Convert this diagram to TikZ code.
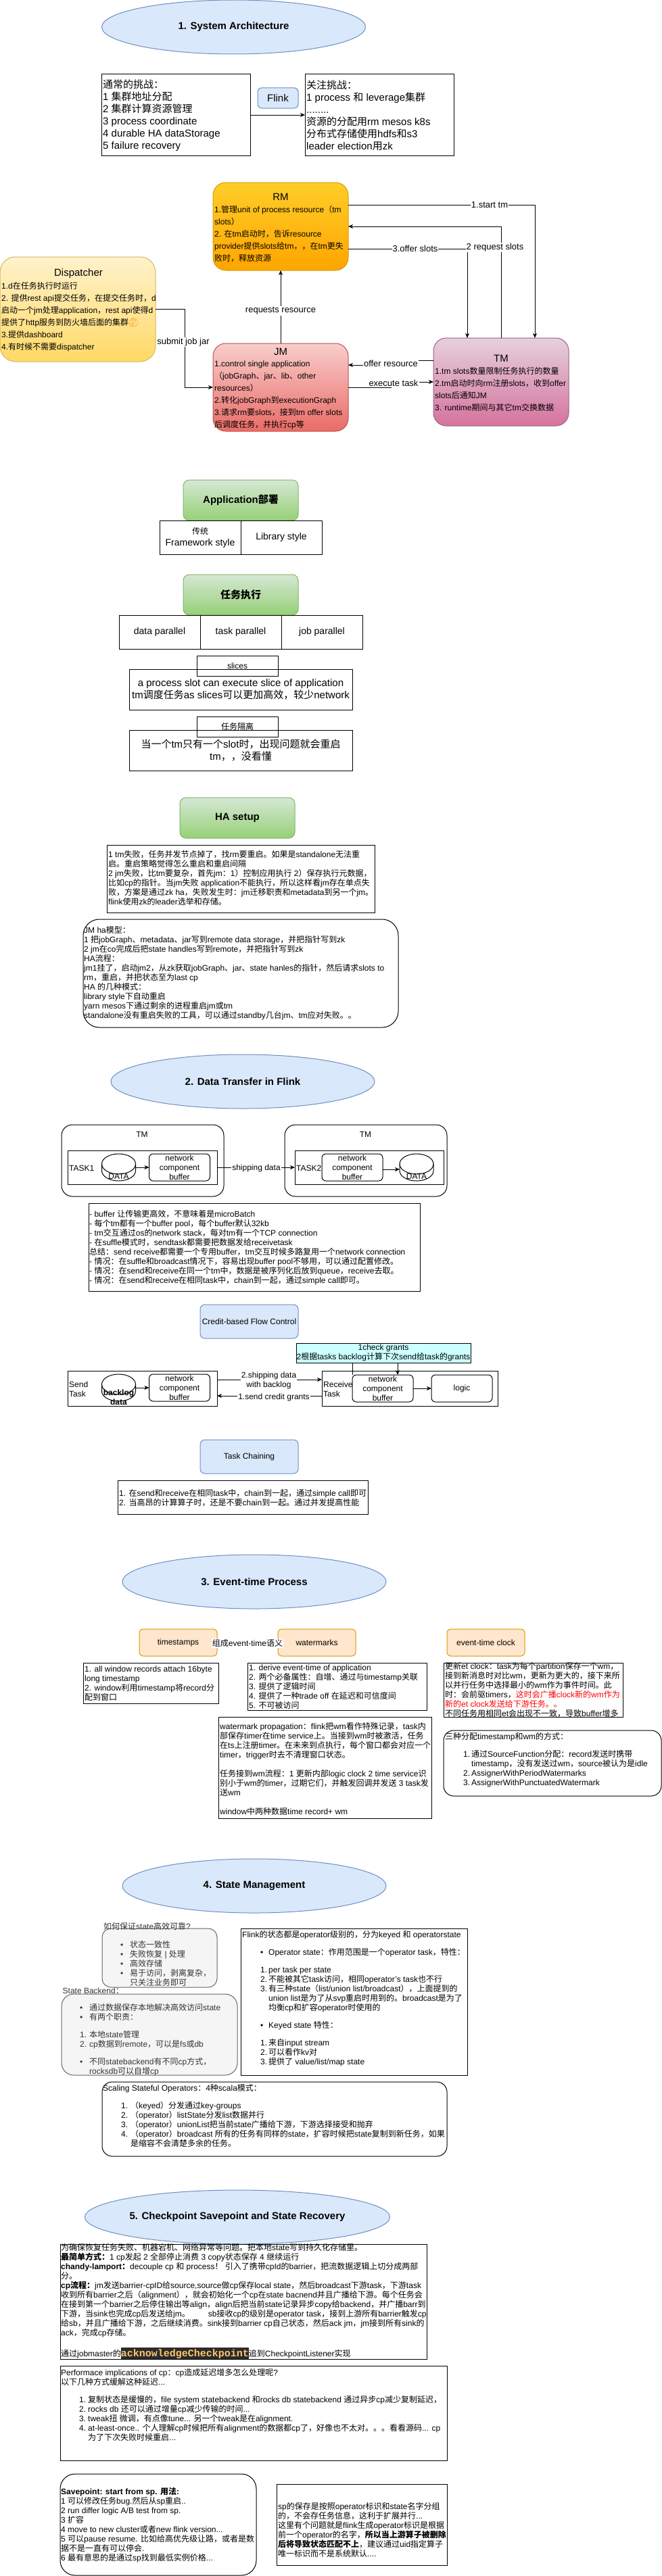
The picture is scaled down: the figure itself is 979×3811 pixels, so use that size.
\documentclass[tikz,border=0pt]{standalone}
\usepackage{fontspec}
\usetikzlibrary{arrows.meta,shapes.geometric,calc}
\setmainfont{Liberation Sans}
\setmonofont{Liberation Mono}
\newfontfamily\cjkf{Noto Sans CJK SC}
\newfontfamily\emojif{Noto Emoji}
% automatic font switch between Latin and CJK
\XeTeXinterchartokenstate=1
\newXeTeXintercharclass\cjkclass
\newcount\cjkcc
\def\setcjkrange#1#2{\cjkcc=#1 \loop\ifnum\cjkcc<#2 \XeTeXcharclass\cjkcc=\cjkclass \advance\cjkcc 1 \repeat}
\setcjkrange{"2E80}{"A000}
\setcjkrange{"F900}{"FB00}
\setcjkrange{"FE30}{"FE50}
\setcjkrange{"FF00}{"FFF0}
\XeTeXinterchartoks 0 \cjkclass={\cjkf}
\XeTeXinterchartoks \cjkclass 0={\rmfamily}
\XeTeXinterchartoks 4095 \cjkclass={\cjkf}
\XeTeXinterchartoks \cjkclass 4095={\rmfamily}
\definecolor{ebl}{HTML}{DAE8FC}\definecolor{ebd}{HTML}{6C8EBF}
\definecolor{oraf}{HTML}{FFE6CC}\definecolor{orad}{HTML}{D79B00}
\definecolor{rmt}{HTML}{FFCD28}\definecolor{rmb}{HTML}{FFA500}
\definecolor{dit}{HTML}{FFF2CC}\definecolor{dib}{HTML}{FFD966}\definecolor{did}{HTML}{D6B656}
\definecolor{jmt}{HTML}{F8CECC}\definecolor{jmb}{HTML}{EA6B66}\definecolor{jmd}{HTML}{B85450}
\definecolor{tmt}{HTML}{E6D0DE}\definecolor{tmb}{HTML}{D5739D}\definecolor{tmd}{HTML}{996185}
\definecolor{grt}{HTML}{D5E8D4}\definecolor{grb}{HTML}{97D077}\definecolor{grd}{HTML}{82B366}
\definecolor{gyf}{HTML}{F5F5F5}\definecolor{gyd}{HTML}{666666}\definecolor{gyt}{HTML}{333333}
\definecolor{cyanf}{HTML}{CCFFFF}\definecolor{dkbg}{HTML}{2B2B2B}\definecolor{dkfg}{HTML}{FFC66D}
\newcommand\fsz[2]{\fontsize{#1pt}{#2pt}\selectfont}
\newcount\txn
\tikzset{
 boxs/.style={draw=black,line width=1pt,inner sep=0pt,outer sep=0pt,rectangle,align=center,font=\fsz{12}{14}},
 rr/.style={rounded corners=#1pt},
 sect/.style={ellipse,draw=ebd,fill=ebl,line width=1pt,inner sep=0pt,outer sep=0pt,minimum width=390pt,minimum height=80pt,font=\bfseries\fsz{15}{18}},
 txt/.style={anchor=west,align=left,inner sep=0pt,font=\fsz{12}{14}},
 ctr/.style={anchor=center,align=center,inner sep=0pt,font=\fsz{12}{14}},
 conn/.style={-{Stealth[length=7pt,width=6pt,inset=2pt]},black,line width=1pt},
 lbl/.style={fill=white,inner sep=1pt,align=center,font=\fsz{13}{15}},
 lbs/.style={fill=white,inner sep=1pt,align=center,font=\fsz{12}{14}},
 blu/.style={draw=ebd,fill=ebl},
 ora/.style={draw=orad,fill=oraf,rr=6},
 grn/.style={draw=grd,top color=grt,bottom color=grb,rr=9,font=\bfseries\fsz{15}{18}},
 gry/.style={draw=gyd,fill=gyf},
}
% box without text
\newcommand\bx[6][]{\node[boxs,#1,minimum width=#5pt,minimum height=#6pt] (#2) at ({#3+#5/2},{#4+#6/2}) {};}
% box with centred text
\newcommand\bxc[7][]{\node[boxs,#1,minimum width=#5pt,minimum height=#6pt] (#2) at ({#3+#5/2},{#4+#6/2}) {#7};}
% left aligned text block: x, vertical centre
\newcommand\tx[4][]{\global\advance\txn by 1 \node[txt,#1] (t\the\txn) at (#2,#3) {#4};}
\newcommand\li[2]{\makebox[#1pt][l]{#2}}
\newcommand\cyl[5]{%
 \node[minimum width=#4pt,minimum height=#5pt,inner sep=0pt,outer sep=0pt] (#1) at ({#2+#4/2},{#3+#5/2}) {};
 \pgfmathsetmacro\xa{#2}\pgfmathsetmacro\xb{#2+#4}\pgfmathsetmacro\xm{#2+#4/2}
 \pgfmathsetmacro\ya{#3}\pgfmathsetmacro\yb{#3+15}\pgfmathsetmacro\yc{#3+#5-15}\pgfmathsetmacro\yd{#3+#5}
 \draw[line width=1pt,fill=white] (\xa,\yb) .. controls (\xa,\yb-8.25) and (\xm-13.75,\ya) .. (\xm,\ya) .. controls (\xm+13.75,\ya) and (\xb,\yb-8.25) .. (\xb,\yb) -- (\xb,\yc) .. controls (\xb,\yc+8.25) and (\xm+13.75,\yd) .. (\xm,\yd) .. controls (\xm-13.75,\yd) and (\xa,\yc+8.25) .. (\xa,\yc) -- cycle;
 \draw[line width=1pt] (\xa,\yb) .. controls (\xa,\yb+8.25) and (\xm-13.75,\yb+15) .. (\xm,\yb+15) .. controls (\xm+13.75,\yb+15) and (\xb,\yb+8.25) .. (\xb,\yb);
}
\setlength\fboxsep{0pt}
\begin{document}
\begin{tikzpicture}[x=1pt,y=-1pt]
\useasboundingbox (0,0) rectangle (979,3811);
% ---------------- 1
\node[sect] (e1) at (345.5,40) {1. System Architecture};
\bx{boxa}{150}{110}{220}{120}
\tx[font=\fsz{15}{18}]{152}{171}{通常的挑战：\\1 集群地址分配\\2 集群计算资源管理\\3 process coordinate\\4 durable HA dataStorage\\5 failure recovery}
\bx{boxb}{451}{110}{220}{120}
\tx[font=\fsz{15}{18}]{453}{171}{关注挑战：\\1 process 和 leverage集群\\........\\资源的分配用rm mesos k8s\\分布式存储使用hdfs和s3\\leader election用zk}
\bxc[blu,rr=6,font=\fsz{15}{18}]{flink}{381}{130}{60}{30}{Flink}
\draw[conn] (boxa.east) -- (boxb.west);
% RM / Dispatcher / JM / TM
\bx[rr=19,draw=orad,top color=rmt,bottom color=rmb]{rm}{315}{270}{200}{130}
\node[ctr,font=\fsz{15}{18}] (rmh) at (415,291) {RM};
\tx[font=\fsz{12}{18}]{317}{346}{1.管理unit of process resource（tm\\slots）\\2. 在tm启动时，告诉resource\\provider提供slots给tm，，在tm更失\\败时，释放资源}
\bx[rr=23,draw=did,top color=dit,bottom color=dib]{disp}{0}{380}{230}{155}
\node[ctr,font=\fsz{15}{18}] (disph) at (116,405) {Dispatcher};
\tx[font=\fsz{12}{18}]{2}{469}{1.d在任务执行时运行\\2. 提供rest api提交任务，在提交任务时，d\\启动一个jm处理application，rest api使得d\\提供了http服务到防火墙后面的集群{\emojif\textcolor{orange}{🤔}}\\3.提供dashboard\\4.有时候不需要dispatcher}
\bx[rr=19,draw=jmd,top color=jmt,bottom color=jmb]{jm}{315}{508}{200}{130}
\node[ctr,font=\fsz{15}{18}] (jmh) at (415,520) {JM};
\tx[font=\fsz{12}{18}]{317}{584}{1.control single application\\（jobGraph、jar、lib、other\\resources）\\2.转化jobGraph到executionGraph\\3.请求rm要slots，接到tm offer slots\\后调度任务，并执行cp等}
\bx[rr=19,draw=tmd,top color=tmt,bottom color=tmb]{tm}{641}{500}{200}{130}
\node[ctr,font=\fsz{15}{18}] (tmh) at (741,530) {TM};
\tx[font=\fsz{12}{18}]{643}{576}{1.tm slots数量限制任务执行的数量\\2.tm启动时向rm注册slots，收到offer\\slots后通知JM\\3. runtime期间与其它tm交换数据}
\draw[conn] ([yshift=32pt]rm.east) -| ([xshift=50pt]tm.north);
\node[lbl] (l1) at (724,303) {1.start tm};
\draw[conn] (tm.north) |- (rm.east);
\draw[conn] ([yshift=-33pt]rm.east) -| ([xshift=-50pt]tm.north);
\node[lbl] (l2) at (614,368) {3.offer slots};
\node[lbl] (l3) at (732,366) {2 request slots};
\draw[conn] (jm.north) -- (rm.south);
\node[lbl] (l4) at (415,460) {requests resource};
\draw[conn] (disp.east) -- ++(43,0) |- (jm.west);
\node[lbl] (l5) at (271,506) {submit job jar};
\draw[conn] ([yshift=32pt]tm.west) -- ++(-63,0) |- ([yshift=33pt]jm.east);
\node[lbl] (l6) at (578,538) {offer resource};
\draw[conn] (jm.east) -- ++(63,0) |- (tm.west);
\node[lbl] (l7) at (582,567) {execute task};
% Application
\bxc[grn]{app}{271}{710}{170}{60}{Application部署}
\bxc[font=\fsz{14}{17}]{fw}{236}{770}{120}{50}{{\fsz{12}{17}传统}\\Framework style}
\bxc[font=\fsz{14}{17}]{lib}{356}{770}{120}{50}{Library style}
\bxc[grn]{exe}{271}{850}{170}{60}{任务执行}
\bxc[font=\fsz{14}{17}]{dp}{176}{910}{120}{50}{data parallel}
\bxc[font=\fsz{14}{17}]{tp}{296}{910}{120}{50}{task parallel}
\bxc[font=\fsz{14}{17}]{jp}{416}{910}{120}{50}{job parallel}
\bxc[font=\fsz{15}{18}]{sl}{191}{990}{330}{60}{a process slot can execute slice of application\\tm调度任务as slices可以更加高效，较少network}
\bxc{slh}{291}{970}{120}{30}{slices}
\bxc[font=\fsz{15}{18}]{iso}{191}{1080}{330}{60}{当一个tm只有一个slot时，出现问题就会重启\\tm，，没看懂}
\bxc{isoh}{291}{1060}{120}{30}{任务隔离}
% HA
\bxc[grn]{ha}{266}{1180}{170}{60}{HA setup}
\bx{ha1}{158}{1250}{396}{100}
\tx{160}{1299}{1 tm失败，任务并发节点掉了，找rm要重启。如果是standalone无法重\\启。重启策略觉得怎么重启和重启间隔\\2 jm失败，比tm要复杂，首先jm：1）控制应用执行 2）保存执行元数据，\\比如cp的指针。当jm失败 application不能执行，所以这样看jm存在单点失\\败，方案是通过zk ha，失败发生时：jm迁移职责和metadata到另一个jm。\\flink使用zk的leader选举和存储。}
\bx[rr=24]{ha2}{123}{1360}{466}{160}
\tx{124}{1440}{JM ha模型：\\1 把jobGraph、metadata、jar写到remote data storage，并把指针写到zk\\2 jm在co完成后把state handles写到remote，并把指针写到zk\\HA流程：\\jm1挂了，启动jm2，从zk获取jobGraph、jar、state hanles的指针，然后请求slots to\\rm，重启，并把状态至为last cp\\HA 的几种模式：\\library style下自动重启\\yarn mesos下通过剩余的进程重启jm或tm\\standalone没有重启失败的工具，可以通过standby几台jm、tm应对失败。。}
% ---------------- 2
\node[sect] (e2) at (359,1600) {2. Data Transfer in Flink};
\bx[rr=16]{tm1}{91}{1664}{240}{106}
\node[ctr] (tm1h) at (210,1678) {TM};
\bx{task1}{100}{1702}{221}{50}
\node[txt] (task1h) at (102,1728) {TASK1};
\cyl{d1}{150.5}{1707}{50}{40}
\node[ctr] (d1h) at (175.5,1740) {DATA};
\bxc[rr=6]{nb1}{220.5}{1707}{90}{40}{network\\component\\buffer}
\draw[conn] (d1.east) -- (nb1.west);
\bx[rr=16]{tm2}{421}{1664}{240}{106}
\node[ctr] (tm2h) at (540.5,1678) {TM};
\bx{task2}{436}{1702}{220}{50}
\node[txt] (task2h) at (438,1728) {TASK2};
\bxc[rr=6]{nb2}{476}{1707}{90}{40}{network\\component\\buffer}
\cyl{d2}{591}{1707}{50}{40}
\node[ctr] (d2h) at (616,1740) {DATA};
\draw[conn] ([yshift=-3pt]nb2.east) -- ([yshift=-3pt]d2.west);
\draw[conn] (task1.east) -- (task2.west);
\node[lbs] (l8) at (379,1728) {shipping data};
\bx{notes}{131}{1780}{490}{130}
\tx{132}{1846}{- buffer 让传输更高效，不意味着是microBatch\\- 每个tm都有一个buffer pool，每个buffer默认32kb\\- tm交互通过os的network stack，每对tm有一个TCP connection\\- 在suffle模式时，sendtask都需要把数据发给receivetask\\总结：send receive都需要一个专用buffer，tm交互时候多路复用一个network connection\\- 情况：在suffle和broadcast情况下，容易出现buffer pool不够用，可以通过配置修改。\\- 情况：在send和receive在同一个tm中，数据是被序列化后放到queue，receive去取。\\- 情况：在send和receive在相同task中，chain到一起，通过simple call即可。}
\bxc[blu,rr=7]{credit}{296}{1930}{145}{50}{Credit-based Flow Control}
\bxc[fill=cyanf]{chk}{438}{1987}{258}{29}{1check grants\\2根据tasks backlog计算下次send给task的grants}
\bx{snd}{100}{2028}{221}{52}
\tx{102}{2055}{Send\\Task}
\cyl{d3}{150.5}{2033}{50}{40}
\node[ctr,font=\bfseries\fsz{12}{14}] (d3h) at (175.5,2067) {backlog\\data};
\bxc[rr=6]{nb3}{220.5}{2033}{90}{40}{network\\component\\buffer}
\draw[conn] (d3.east) -- (nb3.west);
\bx{rcv}{476}{2028}{260}{52}
\tx{478}{2055}{Receive\\Task}
\bxc[rr=6]{nb4}{521}{2034}{90}{40}{network\\component\\buffer}
\bxc[rr=6]{logic}{638}{2034}{90}{40}{logic}
\draw[conn] (nb4.east) -- (logic.west);
\draw[conn] (chk.south -| 588,0) -- (588,0 |- nb4.north);
\draw[line width=.6pt] (chk.south -| nb4.west) -- (nb4.west |- nb4.north);
\draw[conn] ([yshift=13pt]snd.east) -- ([yshift=13pt]rcv.west);
\node[lbs] (l9) at (397.5,2042) {2.shipping data\\with backlog};
\draw[conn] ([yshift=-11pt]rcv.west) -- ([yshift=-11pt]snd.east);
\node[lbs] (l10) at (405,2067) {1.send credit grants};
\bxc[blu,rr=7]{chain}{296}{2130}{145}{50}{Task Chaining}
\bx{chainb}{174}{2190}{370}{50}
\tx{176}{2216}{1. 在send和receive在相同task中，chain到一起，通过simple call即可\\2. 当高昂的计算算子时，还是不要chain到一起。通过并发提高性能}
% ---------------- 3
\node[sect] (e3) at (376,2340) {3. Event-time Process};
\bxc[ora]{ts}{206}{2410}{115}{40}{timestamps}
\bxc[ora]{wm}{411}{2410}{115}{40}{watermarks}
\bxc[ora]{etc}{661}{2410}{115}{40}{event-time clock}
\draw[line width=1pt] (ts.east) -- (wm.west);
\node[lbs] (l11) at (366,2431) {组成event-time语义};
\bx{w1}{123}{2460}{200}{60}
\tx{125}{2491}{1. all window records attach 16byte\\long timestamp\\2. window利用timestamp将record分\\配到窗口}
\bx{w2}{366}{2460}{265}{70}
\tx{368}{2496}{1. derive event-time of application\\2. 两个必备属性：自增、通过与timestamp关联\\3. 提供了逻辑时间\\4. 提供了一种trade off 在延迟和可信度间\\5. 不可被访问}
\bx{w3}{656}{2460}{265}{80}
\tx{658}{2500}{更新et clock：task为每个partition保存一个wm，\\接到新消息时对比wm，更新为更大的，接下来所\\以并行任务中选择最小的wm作为事件时间。此\\时：会前驱timers，\textcolor{red}{这时会广播clock新的wm作为}\\\textcolor{red}{新的et clock发送给下游任务。。}\\不同任务用相同et会出现不一致，导致buffer增多}
\bx{w4}{323}{2540}{315}{150}
\tx{325}{2617}{watermark propagation：flink把wm看作特殊记录，task内\\部保存timer在time service上。当接到wm时被激活，任务\\在ts上注册timer。在未来到点执行，每个窗口都会对应一个\\timer，trigger时去不清理窗口状态。\\[14pt]任务接到wm流程：1 更新内部logic clock 2 time service识\\别小于wm的timer，过期它们，并触发回调并发送 3 task发\\送wm\\[14pt]window中两种数据time record+ wm}
\bx[rr=15]{w5}{656}{2560}{322}{97}
\tx{658}{2604}{三种分配timestamp和wm的方式：\\[12pt]\hspace*{27pt}\li{12}{1.}通过SourceFunction分配：record发送时携带\\\hspace*{39pt}timestamp，没有发送过wm，source被认为是idle\\\hspace*{27pt}\li{12}{2.}AssignerWithPeriodWatermarks\\\hspace*{27pt}\li{12}{3.}AssignerWithPunctuatedWatermark}
% ---------------- 4
\node[sect] (e4) at (376,2790) {4. State Management};
\bx[gry,rr=13]{g1}{151}{2853}{170}{87}
\node[txt,text=gyt] (g1h) at (153,2850) {如何保证state高效可靠?};
\tx[text=gyt]{178}{2905}{\li{14}{•}状态一致性\\\li{14}{•}失败恢复 | 处理\\\li{14}{•}高效存储\\\li{14}{•}易于访问，剥离复杂，\\\hspace*{14pt}只关注业务即可}
\bx[gry,rr=18]{g2}{91}{2950}{260}{120}
\node[txt,text=gyt] (g2h) at (92.5,2945) {State Backend：};
\tx[text=gyt]{118}{3018}{\li{14}{•}通过数据保存本地解决高效访问state\\\li{14}{•}有两个职责：\\[12pt]\li{14}{1.}本地state管理\\\li{14}{2.}cp数据到remote，可以是fs或db\\[12pt]\li{14}{•}不同statebackend有不同cp方式，\\\hspace*{14pt}rocksdb可以自增cp}
\bx{fl}{356}{2853}{335}{217}
\tx{358}{2957}{Flink的状态都是operator级别的，分为keyed 和 operatorstate\\[12pt]\hspace*{27pt}\li{12}{•}Operator state：作用范围是一个operator task，特性：\\[12pt]\hspace*{27pt}\li{12}{1.}per task per state\\\hspace*{27pt}\li{12}{2.}不能被其它task访问，相同operator's task也不行\\\hspace*{27pt}\li{12}{3.}有三种state（list/union list/broadcast），上面提到的\\\hspace*{39pt}union list是为了从svp重启时用到的。broadcast是为了\\\hspace*{39pt}均衡cp和扩容operator时使用的\\[12pt]\hspace*{27pt}\li{12}{•}Keyed state 特性：\\[12pt]\hspace*{27pt}\li{12}{1.}来自input stream\\\hspace*{27pt}\li{12}{2.}可以看作kv对\\\hspace*{27pt}\li{12}{3.}提供了 value/list/map state}
\bx[rr=15]{sc}{151}{3080}{510}{110}
\tx{152}{3130}{Scaling Stateful Operators：4种scala模式：\\[12pt]\hspace*{27pt}\li{14}{1.}（keyed）分发通过key-groups\\\hspace*{27pt}\li{14}{2.}（operator）listState分发list数据并行\\\hspace*{27pt}\li{14}{3.}（operator）unionList把当前state广播给下游，下游选择接受和抛弃\\\hspace*{27pt}\li{14}{4.}（operator）broadcast 所有的任务有同样的state，扩容时候把state复制到新任务，如果\\\hspace*{41pt}是缩容不会清楚多余的任务。}
% ---------------- 5
\node[sect] (e5) at (351,3280) {5. Checkpoint Savepoint and State Recovery};
\bx{c1}{89}{3320}{542}{170}
\tx{90}{3405}{为确保恢复任务失败、机器宕机、网络异常等问题。把本地state写到持久化存储里。\\\textbf{最简单方式：}1 cp发起 2 全部停止消费 3 copy状态保存 4 继续运行\\\textbf{chandy-lamport：}decouple cp 和 process！ 引入了携带cpId的barrier，把流数据逻辑上切分成两部\\分。\\\textbf{cp流程：}jm发送barrier-cpID给source,source做cp保存local state，然后broadcast下游task，下游task\\收到所有barrier之后（alignment），就会初始化一个cp在state bacnend并且广播给下游。每个任务会\\在接到第一个barrier之后停住输出等align，align后把当前state记录异步copy给backend，并广播barr到\\下游，当sink也完成cp后发送给jm。\hspace*{27pt}sb接收cp的级别是operator task，接到上游所有barrier触发cp\\给sb，并且广播给下游，之后继续消费。sink接到barrier cp自己状态，然后ack jm，jm接到所有sink的\\ack，完成cp存储。\\[14pt]通过jobmaster的\colorbox{dkbg}{\rule[-4pt]{0pt}{17pt}\fsz{15}{17}\ttfamily\bfseries\textcolor{dkfg}{acknowledgeCheckpoint}}追到CheckpointListener实现}
\bx{c2}{89}{3500}{572}{140}
\tx{90}{3558}{Performace implications of cp：cp造成延迟增多怎么处理呢?\\以下几种方式缓解这种延迟...\\[12pt]\hspace*{27pt}\li{13}{1.}复制状态是缓慢的，file system statebackend 和rocks db statebackend 通过异步cp减少复制延迟，\\\hspace*{27pt}\li{13}{2.}rocks db 还可以通过增量cp减少传输的时间...\\\hspace*{27pt}\li{13}{3.}tweak扭 微调，有点像tune... 另一个tweak是在alignment.\\\hspace*{27pt}\li{13}{4.}at-least-once.. 个人理解cp时候把所有alignment的数据都cp了，好像也不太对。。。看看源码... cp\\\hspace*{40pt}为了下次失败时候重启...}
\bx[rr=22]{c3}{89}{3660}{290}{150}
\tx{90}{3736}{\textbf{Savepoint: start from sp. 用法:}\\1 可以修改任务bug.然后从sp重启..\\2 run differ logic A/B test from sp.\\3 扩容\\4 move to new cluster或者new flink version...\\5 可以pause resume. 比如给高优先级让路，或者是数\\据不是一直有可以停会.\\6 最有意思的是通过sp找到最低实例价格...}
\bx{c4}{409}{3675}{252}{120}
\tx{411}{3743}{sp的保存是按照operator标识和state名字分组\\的，不会存任务信息，这利于扩展并行...\\这里有个问题就是flink生成operator标识是根据\\前一个operator的名字，\textbf{所以当上游算子被删除}\\\textbf{后将导致状态匹配不上}，建议通过uid指定算子\\唯一标识而不是系统默认....}
\end{tikzpicture}
\end{document}
